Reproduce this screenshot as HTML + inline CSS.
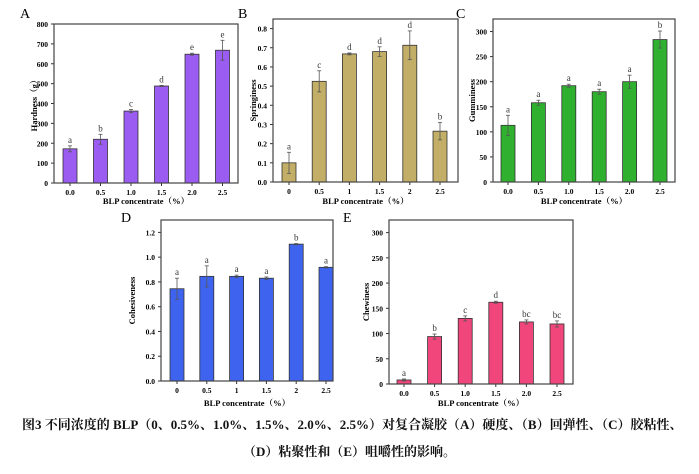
<!DOCTYPE html>
<html><head><meta charset="utf-8"><style>
body{margin:0;background:#fff;width:699px;height:469px;overflow:hidden}
svg text{font-family:"Liberation Serif","Noto Serif CJK SC",serif}
.cap{position:absolute;left:0;width:699px;font-family:"Liberation Serif","Noto Serif CJK SC",serif;font-size:13px;font-weight:bold;color:#111;white-space:nowrap}
</style></head><body>
<svg id="s" width="699" height="469" xmlns="http://www.w3.org/2000/svg"></svg>
<div class="cap" style="top:414px;left:22px">图3 不同浓度的 BLP（0、0.5%、1.0%、1.5%、2.0%、2.5%）对复合凝胶（A）硬度、（B）回弹性、（C）胶粘性、</div>
<div class="cap" style="top:441px;text-align:center">（D）粘聚性和（E）咀嚼性的影响。</div>
<script>
const P=[
{L:"A",lx:20,ly:18,x0:54,x1:238,y0:24,y1:183,max:800,step:100,dec:0,first:70,sp:30.5,col:"#9b5cf2",yt:"Hardness（g）",ytx:37,xl:["0.0","0.5","1.0","1.5","2.0","2.5"],
v:[172,220,362,488,648,668],e:[15,25,8,3,5,50],g:["a","b","c","d","e","e"],xt:204},
{L:"B",lx:238,ly:18,x0:273,x1:458,y0:19,y1:182,max:0.85,step:0.1,dec:1,top:0.8,first:289,sp:30.2,col:"#c2ae66",yt:"Springiness",ytx:256,xl:["0","0.5","1","1.5","2","2.5"],
v:[0.1,0.525,0.668,0.68,0.713,0.265],e:[.055,.055,.005,.025,.075,.045],g:["a","c","d","d","d","b"],xt:204},
{L:"C",lx:456,ly:18,x0:493,x1:675,y0:19,y1:182,max:325,step:50,dec:0,top:300,first:508,sp:30.4,col:"#2fb02f",yt:"Gumminess",ytx:475,xl:["0.0","0.5","1.0","1.5","2.0","2.5"],
v:[113,158,192,180,200,284],e:[20,5,3,5,13,17],g:["a","a","a","a","a","b"],xt:204},
{L:"D",lx:121,ly:222,x0:161,x1:333,y0:220,y1:381,max:1.3,step:0.2,dec:1,top:1.2,first:177,sp:29.8,col:"#3e63ee",yt:"Cohesiveness",ytx:135,xl:["0","0.5","1","1.5","2","2.5"],
v:[0.745,0.845,0.845,0.83,1.105,0.918],e:[.085,.085,.01,.01,.005,.005],g:["a","a","a","a","b","a"],xt:406},
{L:"E",lx:343,ly:222,x0:389,x1:573,y0:220,y1:384,max:325,step:50,dec:0,top:300,first:404,sp:30.6,col:"#f0467c",yt:"Chewiness",ytx:369,xl:["0.0","0.5","1.0","1.5","2.0","2.5"],
v:[8,94,130,162,123,119],e:[2,5,5,2,4,6],g:["a","b","c","d","bc","bc"],xt:406}];
let h="";
for(const p of P){
 const Y=v=>p.y1-(v/p.max)*(p.y1-p.y0);
 h+=`<text x="${p.lx}" y="${p.ly}" font-size="14">${p.L}</text>`;
 const top=p.top!==undefined?p.top:p.max;
 for(let t=0;t<=top+1e-9;t+=p.step){const y=Y(t);
  h+=`<line x1="${p.x0}" x2="${p.x0-3}" y1="${y}" y2="${y}" stroke="#333"/>`;
  h+=`<text x="${p.x0-6}" y="${y+3}" font-size="7.5" font-weight="bold" text-anchor="end">${t.toFixed(p.dec)}</text>`;}
 p.v.forEach((v,i)=>{const cx=p.first+i*p.sp,w=14,y=Y(v);
  h+=`<rect x="${cx-w/2}" y="${y}" width="${w}" height="${p.y1-y}" fill="${p.col}" stroke="#333" stroke-width="0.8"/>`;
  const ya=Y(v+p.e[i]),yb=Y(v-p.e[i]);
  h+=`<line x1="${cx}" x2="${cx}" y1="${ya}" y2="${yb}" stroke="#555" stroke-width="0.8"/><line x1="${cx-2}" x2="${cx+2}" y1="${ya}" y2="${ya}" stroke="#555" stroke-width="0.8"/><line x1="${cx-2}" x2="${cx+2}" y1="${yb}" y2="${yb}" stroke="#555" stroke-width="0.8"/>`;
  h+=`<text x="${cx}" y="${ya-3}" font-size="9" text-anchor="middle" fill="#333">${p.g[i]}</text>`;
  h+=`<line x1="${cx}" x2="${cx}" y1="${p.y1}" y2="${p.y1+3}" stroke="#333"/>`;
  h+=`<text x="${cx}" y="${p.y1+12}" font-size="7.5" font-weight="bold" text-anchor="middle">${p.xl[i]}</text>`;});
 h+=`<rect x="${p.x0}" y="${p.y0}" width="${p.x1-p.x0}" height="${p.y1-p.y0}" fill="none" stroke="#444" stroke-width="1.2"/>`;
 const my=(p.y0+p.y1)/2;
 h+=`<text transform="translate(${p.ytx},${my}) rotate(-90)" font-size="8.5" font-weight="bold" text-anchor="middle">${p.yt}</text>`;
 h+=`<text x="${(p.x0+p.x1)/2}" y="${p.xt}" font-size="8.5" font-weight="bold" text-anchor="middle">BLP concentrate（%）</text>`;
}
document.getElementById("s").innerHTML=h;
</script>
</body></html>
